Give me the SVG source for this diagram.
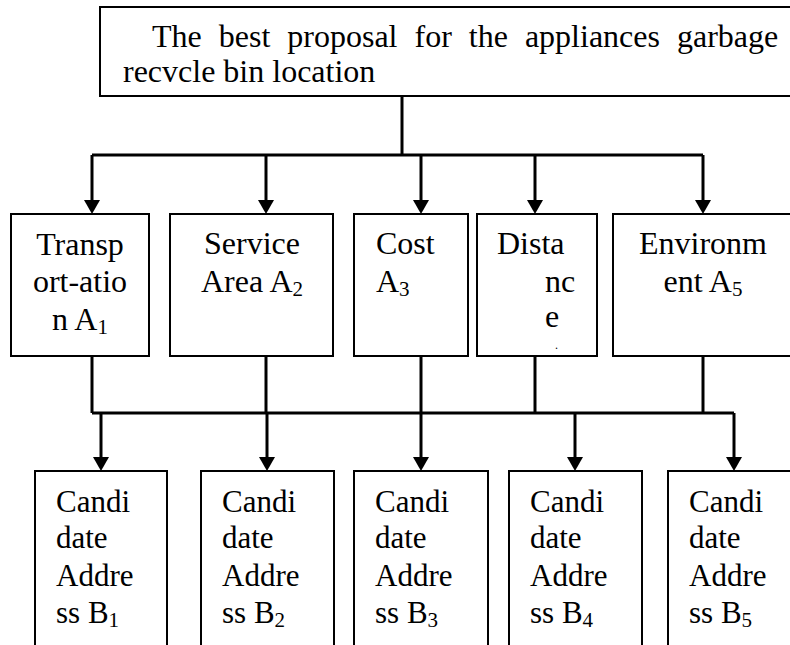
<svg xmlns="http://www.w3.org/2000/svg" width="790" height="645" viewBox="0 0 790 645">
<style>
.box{fill:#fff;stroke:#000;stroke-width:2}
.conn{fill:none;stroke:#000;stroke-width:3}
text{font-family:"Liberation Serif","Times New Roman",serif;font-size:31px;fill:#000}
.t{font-size:32px}
.sub{font-size:21px}
.c{text-anchor:middle}
</style>
<defs>
<marker id="arr" viewBox="0 0 14 16" refX="0" refY="8" markerWidth="14" markerHeight="16" markerUnits="userSpaceOnUse" orient="auto">
<path d="M0,0 L14,8 L0,16 Z" fill="#000"/>
</marker>
</defs>
<rect width="790" height="645" fill="#fff"/>
<g id="connectors">
<path class="conn" d="M402,96 V155"/>
<path class="conn" d="M92,155 H703"/>
<path class="conn" marker-end="url(#arr)" d="M92,155 V200"/>
<path class="conn" marker-end="url(#arr)" d="M266,155 V200"/>
<path class="conn" marker-end="url(#arr)" d="M421,155 V200"/>
<path class="conn" marker-end="url(#arr)" d="M535,155 V200"/>
<path class="conn" marker-end="url(#arr)" d="M703,155 V200"/>
<path class="conn" d="M92,356 V413"/>
<path class="conn" d="M266,356 V413"/>
<path class="conn" d="M421,356 V413"/>
<path class="conn" d="M535,356 V413"/>
<path class="conn" d="M703,356 V413"/>
<path class="conn" d="M92,413 H734"/>
<path class="conn" marker-end="url(#arr)" d="M101,413 V457"/>
<path class="conn" marker-end="url(#arr)" d="M267,413 V457"/>
<path class="conn" marker-end="url(#arr)" d="M421,413 V457"/>
<path class="conn" marker-end="url(#arr)" d="M575,413 V457"/>
<path class="conn" marker-end="url(#arr)" d="M734,413 V457"/>
</g>
<g id="goal">
<rect class="box" x="100" y="7" width="700" height="89"/>
<text class="t" x="152" y="47" word-spacing="9">The best proposal for the appliances garbage</text>
<text class="t" x="123" y="82">recvcle bin location</text>
</g>
<g id="A1">
<rect class="box" x="11" y="214" width="138" height="142"/>
<text class="c t" x="80" y="255">Transp</text>
<text class="c t" x="80" y="292">ort-atio</text>
<text class="c t" x="80" y="330">n A<tspan class="sub" dy="4">1</tspan></text>
</g>
<g id="A2">
<rect class="box" x="170" y="214" width="163" height="142"/>
<text class="c t" x="252" y="254">Service</text>
<text class="c t" x="252" y="292">Area A<tspan class="sub" dy="4">2</tspan></text>
</g>
<g id="A3">
<rect class="box" x="354" y="214" width="114" height="142"/>
<text class="t" x="376" y="254">Cost</text>
<text class="t" x="376" y="292">A<tspan class="sub" dy="4">3</tspan></text>
</g>
<g id="A4">
<rect class="box" x="477" y="214" width="120" height="142"/>
<text class="t" x="497" y="254">Dista</text>
<text class="t" x="545" y="292">nc</text>
<text class="t" x="545" y="327">e</text>
<text x="555" y="349" style="font-size:12px">.</text>
</g>
<g id="A5">
<rect class="box" x="613" y="214" width="190" height="142"/>
<text class="c t" x="703" y="254">Environm</text>
<text class="c t" x="703" y="292">ent A<tspan class="sub" dy="4">5</tspan></text>
</g>
<g id="B1">
<rect class="box" x="35" y="471" width="132" height="190"/>
<text x="56" y="512">Candi</text>
<text x="56" y="548">date</text>
<text x="56" y="586">Addre</text>
<text x="56" y="623">ss B<tspan class="sub" dy="4">1</tspan></text>
</g>
<g id="B2">
<rect class="box" x="201" y="471" width="133" height="190"/>
<text x="222" y="512">Candi</text>
<text x="222" y="548">date</text>
<text x="222" y="586">Addre</text>
<text x="222" y="623">ss B<tspan class="sub" dy="4">2</tspan></text>
</g>
<g id="B3">
<rect class="box" x="354" y="471" width="134" height="190"/>
<text x="375" y="512">Candi</text>
<text x="375" y="548">date</text>
<text x="375" y="586">Addre</text>
<text x="375" y="623">ss B<tspan class="sub" dy="4">3</tspan></text>
</g>
<g id="B4">
<rect class="box" x="509" y="471" width="133" height="190"/>
<text x="530" y="512">Candi</text>
<text x="530" y="548">date</text>
<text x="530" y="586">Addre</text>
<text x="530" y="623">ss B<tspan class="sub" dy="4">4</tspan></text>
</g>
<g id="B5">
<rect class="box" x="668" y="471" width="133" height="190"/>
<text x="689" y="512">Candi</text>
<text x="689" y="548">date</text>
<text x="689" y="586">Addre</text>
<text x="689" y="623">ss B<tspan class="sub" dy="4">5</tspan></text>
</g>
</svg>
